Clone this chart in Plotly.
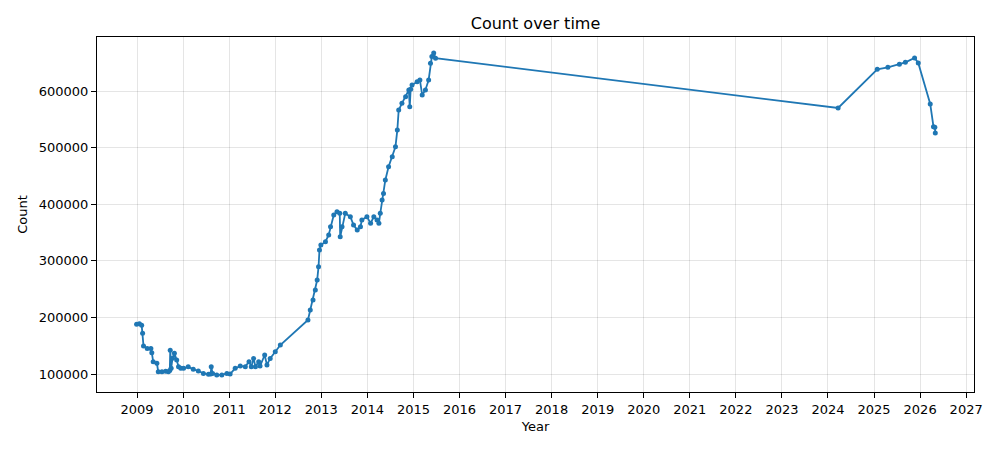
import plotly.graph_objects as go

# decimal years and counts
years = [
    2008.99, 2009.05, 2009.10, 2009.12, 2009.14, 2009.22, 2009.30, 2009.32, 2009.35, 2009.43,
    2009.46, 2009.54, 2009.62, 2009.68, 2009.71, 2009.72, 2009.74, 2009.77, 2009.81, 2009.86,
    2009.90, 2009.95, 2010.01, 2010.11, 2010.22, 2010.33, 2010.44, 2010.55, 2010.60, 2010.61,
    2010.64, 2010.73, 2010.84, 2010.95, 2011.02, 2011.13, 2011.24, 2011.35, 2011.43, 2011.48,
    2011.53, 2011.57, 2011.64, 2011.67, 2011.77, 2011.82, 2011.89, 2012.00, 2012.11, 2012.71,
    2012.76, 2012.82, 2012.87, 2012.91, 2012.94, 2012.96, 2012.99, 2013.09, 2013.16, 2013.20,
    2013.27, 2013.34, 2013.40, 2013.41, 2013.45, 2013.52, 2013.63, 2013.70, 2013.78, 2013.85,
    2013.88, 2013.99, 2014.07, 2014.14, 2014.21, 2014.25, 2014.28, 2014.32, 2014.35, 2014.39,
    2014.46, 2014.54, 2014.61, 2014.65, 2014.68, 2014.75, 2014.83, 2014.90, 2014.92, 2014.94,
    2014.97, 2015.08, 2015.14, 2015.19, 2015.26, 2015.33, 2015.37, 2015.40, 2015.44, 2015.48,
    2024.22, 2025.07, 2025.30, 2025.55, 2025.68, 2025.88, 2025.96, 2026.22, 2026.29, 2026.32,
    2026.33,
]
counts = [
    188000, 189000, 186000, 172000, 149500, 145000, 145000, 137600, 121700, 119000,
    104000, 104000, 105000, 104000, 106000, 142000, 110000, 128000, 136500, 124700,
    113000, 110000, 110000, 113000, 108200, 105300, 101000, 99500, 100000, 113000,
    101000, 98300, 98300, 101000, 100000, 110000, 114000, 113000, 121700, 113000,
    127600, 113000, 121700, 114000, 133600, 116000, 127600, 139400, 151200, 195400,
    213000, 230700, 248400, 266000, 289600, 319000, 328000, 333700, 345600, 360200,
    381000, 386700, 383800, 342600, 360200, 383800, 378000, 363300, 354400, 360200,
    372100, 378000, 366200, 378000, 372100, 366200, 383800, 407400, 419000, 442800,
    466300, 484000, 501600, 531000, 566400, 578200, 590000, 601800, 572300, 603000,
    610600, 616500, 619500, 593000, 601800, 619500, 649000, 660800, 667000, 658000,
    570000, 638300, 641900, 647200, 650700, 658300, 649500, 577000, 537000, 536000,
    526000,
]
tick_years = list(range(2009, 2028))
y_ticks = [100000, 200000, 300000, 400000, 500000, 600000]

fig = go.Figure()
fig.add_trace(go.Scatter(
    x=years, y=counts, mode="lines+markers",
    line=dict(color="#1f77b4", width=1.8),
    marker=dict(color="#1f77b4", size=5),
    showlegend=False,
))

axis_common = dict(
    showline=True, linecolor="black", linewidth=1, mirror=True,
    ticks="outside", ticklen=5, tickcolor="black", tickwidth=1,
    showgrid=True, gridcolor="rgba(0,0,0,0.1)", gridwidth=1,
    zeroline=False, tickfont=dict(size=13, color="black"),
    title_font=dict(size=13, color="black"), automargin=False,
)

# the page body has an 8px default margin, so margins are offset by 8px
fig.update_layout(
    width=1000, height=450,
    margin=dict(l=89, r=34, t=29, b=66),
    paper_bgcolor="white", plot_bgcolor="white",
    font=dict(family="DejaVu Sans", color="black"),
    title=dict(text="Count over time", x=0.5, xanchor="center", xref="paper",
               y=1 - 15 / 450, yanchor="middle", font=dict(size=16, color="black")),
    xaxis=dict(range=[2008.13, 2027.17], tickvals=tick_years,
               ticktext=[str(t) for t in tick_years],
               title=dict(text="Year", standoff=6), **axis_common),
    yaxis=dict(range=[68200, 695400], tickvals=y_ticks,
               ticktext=[str(v) for v in y_ticks],
               title=dict(text="Count", standoff=8), **axis_common),
)

fig.write_html("out.html")
